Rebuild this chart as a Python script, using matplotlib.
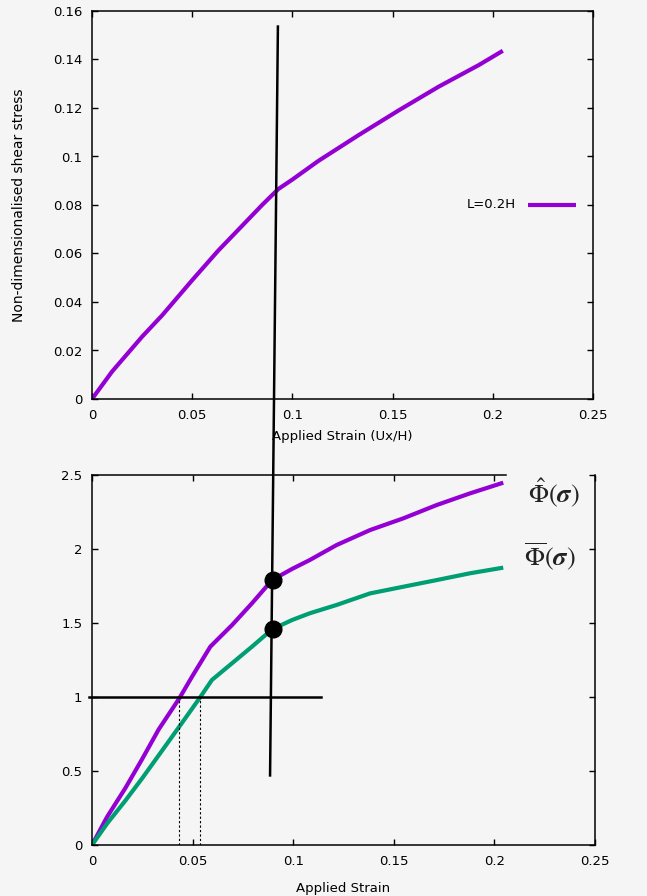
import matplotlib
matplotlib.use("Agg")
import matplotlib.pyplot as plt

# ---------------- data ----------------
top_x = [0, 0.01, 0.025, 0.035, 0.05, 0.063, 0.075, 0.085, 0.093, 0.1, 0.113,
         0.133, 0.153, 0.173, 0.193, 0.205]
top_y = [0, 0.0113, 0.0257, 0.0345, 0.049, 0.0612, 0.0715, 0.0801, 0.0866, 0.0905, 0.0982,
         0.1088, 0.1190, 0.1288, 0.1377, 0.1436]
top_label = "L=0.2H"

hat_x = [0, 0.0075, 0.0166, 0.0249, 0.0331, 0.0434, 0.0497, 0.0588, 0.0696, 0.0795,
         0.0895, 0.0994, 0.1083, 0.1216, 0.1382, 0.1547, 0.1713, 0.1879, 0.2044]
hat_y = [0, 0.19, 0.385, 0.58, 0.78, 0.991, 1.137, 1.34, 1.486, 1.633,
         1.79, 1.865, 1.926, 2.027, 2.128, 2.207, 2.297, 2.376, 2.448]
bar_x = [0, 0.0075, 0.0166, 0.0249, 0.0331, 0.0434, 0.0534, 0.0596, 0.0696, 0.0795,
         0.0895, 0.0994, 0.1083, 0.1216, 0.1382, 0.1547, 0.1713, 0.1879, 0.2044]
bar_y = [0, 0.145, 0.30, 0.45, 0.605, 0.80, 0.991, 1.115, 1.228, 1.34,
         1.457, 1.52, 1.566, 1.622, 1.70, 1.745, 1.79, 1.836, 1.874]

marker_x = [0.0898, 0.0898]
marker_y = [1.79, 1.457]
cross_x = [0.0434, 0.0538]        # strains where curves reach 1
hline_x = [-0.0015, 0.114]
hline_y = [1, 1]
slant_x = [0.0924, 0.0885]        # long black line (bottom-axes data coords)
slant_y = [5.53, 0.47]

x_ticks = [0, 0.05, 0.1, 0.15, 0.2, 0.25]
x_ticklabels = ["0", "0.05", "0.1", "0.15", "0.2", "0.25"]
top_yticks = [0, 0.02, 0.04, 0.06, 0.08, 0.1, 0.12, 0.14, 0.16]
top_yticklabels = ["0", "0.02", "0.04", "0.06", "0.08", "0.1", "0.12", "0.14", "0.16"]
bot_yticks = [0, 0.5, 1, 1.5, 2, 2.5]
bot_yticklabels = ["0", "0.5", "1", "1.5", "2", "2.5"]

# ---------------- style ----------------
BG = "#f5f5f5"
PURPLE = "#9400d3"
GREEN = "#009e73"
plt.rcParams["font.family"] = ["DejaVu Sans"]
plt.rcParams["mathtext.fontset"] = "stix"

W, H = 647, 896
fig = plt.figure(figsize=(W / 100, H / 100), dpi=100, facecolor=BG)

def frac(l, t, r, b):
    return [l / W, 1 - b / H, (r - l) / W, (b - t) / H]

ax1 = fig.add_axes(frac(92, 11, 593, 399), facecolor=BG)
ax2 = fig.add_axes(frac(92, 475, 595, 845), facecolor=BG)

for ax in (ax1, ax2):
    ax.tick_params(direction="in", top=True, right=True, length=4, width=1,
                   labelsize=9.5, colors="black", pad=7)
    for sp in ax.spines.values():
        sp.set_linewidth(1.1)
    ax.set_xlim(0, 0.25)
    ax.set_xticks(x_ticks)
    ax.set_xticklabels(x_ticklabels)

# top panel
ax1.plot(top_x, top_y, color=PURPLE, lw=3.0, solid_capstyle="butt")
ax1.set_ylim(0, 0.16)
ax1.set_yticks(top_yticks)
ax1.set_yticklabels(top_yticklabels)
ax1.set_xlabel("Applied Strain (Ux/H)", fontsize=9.5, labelpad=6)
ax1.set_ylabel("Non-dimensionalised shear stress", fontsize=10, labelpad=19)
ax1.text(0.2113, 0.08, top_label, ha="right", va="center", fontsize=9.5)
ax1.plot([0.2175, 0.2415], [0.08, 0.08], color=PURPLE, lw=3.0, solid_capstyle="butt")

# bottom panel
ax2.plot(hat_x, hat_y, color=PURPLE, lw=3.0, solid_capstyle="butt")
ax2.plot(bar_x, bar_y, color=GREEN, lw=3.0, solid_capstyle="butt")
ax2.plot(hline_x, hline_y, color="black", lw=1.8, clip_on=False)
for cx in cross_x:
    ax2.plot([cx, cx], [0, 1], color="black", lw=0.8, ls=(0, (2, 2)))
ax2.plot(slant_x, slant_y, color="black", lw=1.8, clip_on=False, zorder=5)
ax2.plot(marker_x, marker_y, "o", color="black", ms=12, zorder=6, clip_on=False)
ax2.set_ylim(0, 2.5)
ax2.set_yticks(bot_yticks)
ax2.set_yticklabels(bot_yticklabels)
ax2.set_xlabel("Applied Strain", fontsize=9.5, labelpad=10)
ax2.spines["top"].set_bounds(0, 0.206)
ax2.text(0.2295, 2.375, r"$\hat{\Phi}(\boldsymbol{\sigma})$", fontsize=19,
         ha="center", va="center", color="#222222")
ax2.text(0.2275, 1.95, r"$\overline{\Phi}(\boldsymbol{\sigma})$", fontsize=19,
         ha="center", va="center", color="#222222")

fig.savefig("out.png", dpi=100, facecolor=BG)
